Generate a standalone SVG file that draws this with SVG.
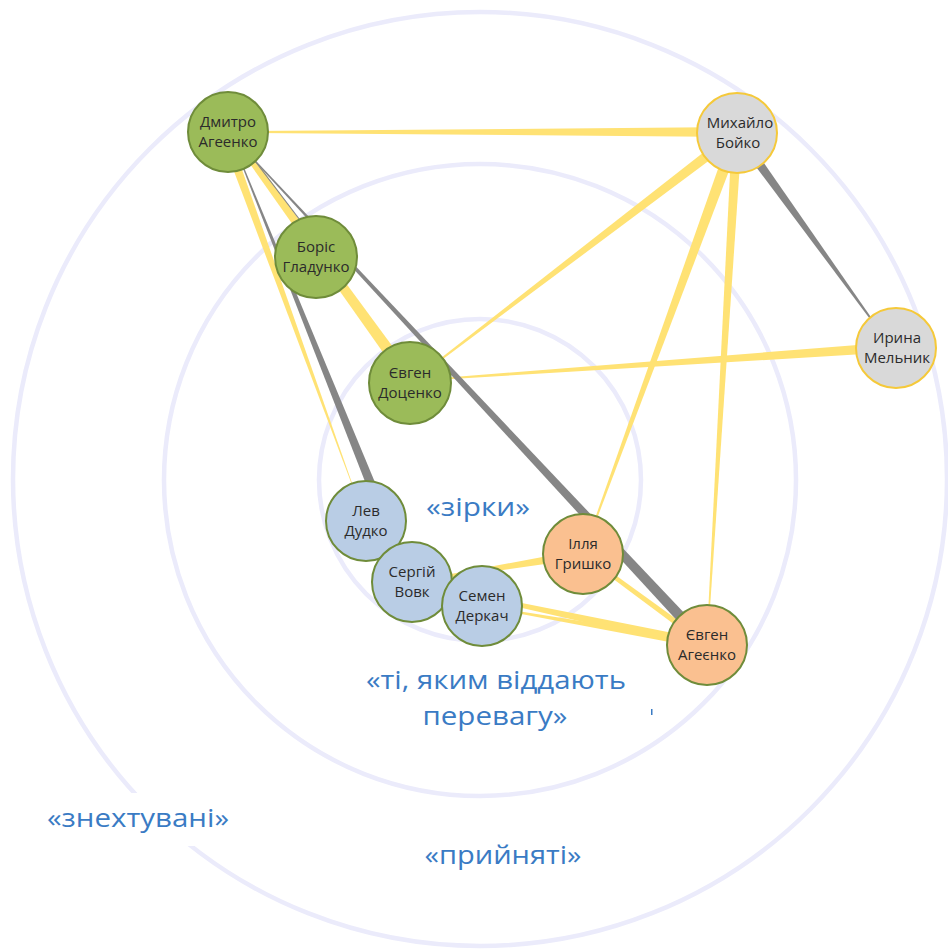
<svg xmlns="http://www.w3.org/2000/svg" width="948" height="950" viewBox="0 0 948 950">
<defs>
<style>
.ring{fill:none;stroke:#ebebfb;stroke-width:4.5}
.y{fill:#ffe274}
.g{fill:#868686}
.ng{fill:#9bbb59;stroke:#6f8c3a;stroke-width:2}
.nb{fill:#b9cde5;stroke:#6f8c3a;stroke-width:2}
.no{fill:#fac090;stroke:#6f8c3a;stroke-width:2}
.nx{fill:#d9d9d9;stroke:#f5c93a;stroke-width:2}
.lbl{font-family:"Open Sans","Liberation Sans",sans-serif;font-size:15px;fill:#2b2b2b;text-anchor:middle}
.big{font-family:"Open Sans","Liberation Sans",sans-serif;font-size:25px;fill:#3a7bc4;text-anchor:middle}
</style>
</defs>
<rect width="948" height="950" fill="#ffffff"/>
<g id="rings">
<circle class="ring" cx="480" cy="479" r="467"/>
<circle class="ring" cx="480" cy="480" r="316"/>
<circle class="ring" cx="480" cy="480" r="161"/>
</g>
<rect x="40" y="793" width="196" height="53" fill="#ffffff"/>
<g id="connectors">
<polygon class="y" points="228,131.25 737,127 737,137 228,132.75"/>
<polygon class="y" points="219.77,133.54 355.77,495.09 356.23,494.91 228.23,130.46"/>
<polygon class="y" points="228.57,133.75 407.13,386.51 416.87,379.49 233.43,130.25"/>
<polygon class="y" points="410.3,383.4 740.34,137.37 733.66,128.63 409.7,382.6"/>
<polygon class="y" points="410.03,381.5 896.35,351.99 895.65,342.01 409.97,380.5"/>
<polygon class="y" points="731.37,130.94 582.53,553.83 583.47,554.17 742.63,135.06"/>
<polygon class="y" points="732.01,132.71 706.5,644.97 707.5,645.03 741.99,133.29"/>
<polygon class="y" points="412.12,582.74 583.73,558.44 582.27,549.56 411.88,581.26"/>
<polygon class="y" points="411.79,582.98 705.96,649.89 708.04,640.11 412.21,581.02"/>
<polygon class="y" points="481.91,606.49 706.32,648.94 707.68,641.06 482.09,605.51"/>
<polygon class="y" points="581.82,555.61 705.22,647.42 708.78,642.58 584.18,552.39"/>
<polygon class="g" points="228.77,132.09 367.83,488.68 376.17,485.32 229.23,131.91"/>
<polygon class="g" points="227.71,132.27 702.98,648.75 711.02,641.25 228.29,131.73"/>
<line x1="233" y1="132" x2="306" y2="228" stroke="#868686" stroke-width="1.2"/>
<polygon class="g" points="732.94,135.92 891.8,348.15 892.2,347.85 741.06,130.08"/>
</g>
<g id="n-dmytro"><circle class="ng" cx="228" cy="132" r="40"/><text class="lbl" x="228" y="127">Дмитро</text><text class="lbl" x="228" y="147">Агеенко</text></g>
<g id="n-boris"><circle class="ng" cx="316" cy="257" r="41"/><text class="lbl" x="316" y="252">Боріс</text><text class="lbl" x="316" y="272">Гладунко</text></g>
<g id="n-dotsenko"><circle class="ng" cx="410" cy="383" r="41"/><text class="lbl" x="410" y="378">Євген</text><text class="lbl" x="410" y="398">Доценко</text></g>
<g id="n-boiko"><circle class="nx" cx="737" cy="133" r="40"/><text class="lbl" x="740" y="128">Михайло</text><text class="lbl" x="738" y="148">Бойко</text></g>
<g id="n-melnyk"><circle class="nx" cx="896" cy="348" r="40"/><text class="lbl" x="897" y="343">Ирина</text><text class="lbl" x="897" y="363">Мельник</text></g>
<g id="n-dudko"><circle class="nb" cx="366" cy="521" r="40"/><text class="lbl" x="366" y="516">Лев</text><text class="lbl" x="366" y="536">Дудко</text></g>
<g id="n-vovk"><circle class="nb" cx="412" cy="582" r="40"/><text class="lbl" x="412" y="577">Сергій</text><text class="lbl" x="412" y="597">Вовк</text></g>
<g id="n-derkach"><circle class="nb" cx="482" cy="606" r="40"/><text class="lbl" x="482" y="601">Семен</text><text class="lbl" x="482" y="621">Деркач</text></g>
<g id="n-hryshko"><circle class="no" cx="583" cy="554" r="40"/><text class="lbl" x="583" y="549">Ілля</text><text class="lbl" x="583" y="569">Гришко</text></g>
<g id="n-aheienko"><circle class="no" cx="707" cy="645" r="40"/><text class="lbl" x="707" y="640">Євген</text><text class="lbl" x="707" y="660">Агеєнко</text></g>
<g id="labels">
<text class="big" x="478" y="516" textLength="104" lengthAdjust="spacingAndGlyphs">«зірки»</text>
<text class="big" x="496" y="689" textLength="260" lengthAdjust="spacingAndGlyphs">«ті, яким віддають</text>
<text class="big" x="495" y="725" textLength="145" lengthAdjust="spacingAndGlyphs">перевагу»</text>
<text class="big" x="138" y="827" textLength="182" lengthAdjust="spacingAndGlyphs">«знехтувані»</text>
<text class="big" x="503" y="864" textLength="157" lengthAdjust="spacingAndGlyphs">«прийняті»</text>
</g>
<rect x="651" y="709" width="1.5" height="6" fill="#3a7bc4"/>
</svg>
